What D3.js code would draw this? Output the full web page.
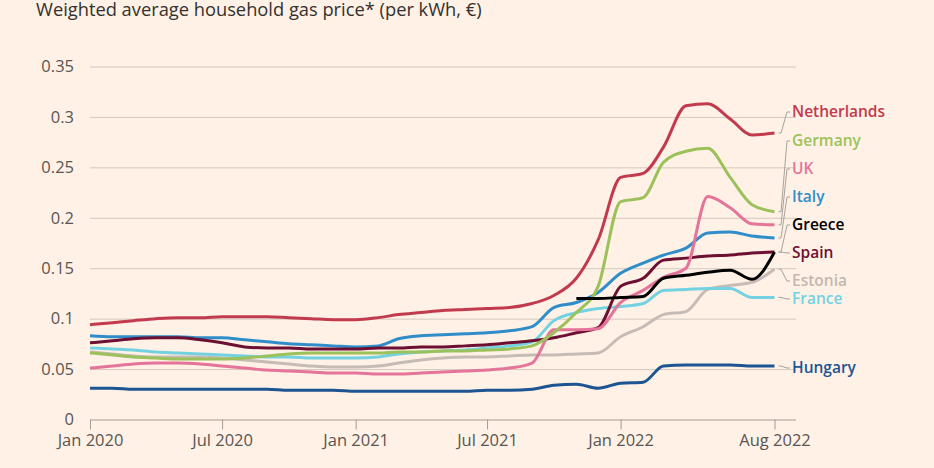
<!DOCTYPE html>
<html>
<head>
<meta charset="utf-8">
<script src="https://cdn.jsdelivr.net/npm/d3@7"></script>
<style>
  html, body { margin: 0; padding: 0; background: #fff1e5; }
  svg { display: block; }
</style>
</head>
<body>
<svg id="chart" width="934" height="468"></svg>
<script>
// ---------- DATA ----------
const months = ["2020-01","2020-02","2020-03","2020-04","2020-05","2020-06","2020-07","2020-08","2020-09","2020-10","2020-11","2020-12",
                "2021-01","2021-02","2021-03","2021-04","2021-05","2021-06","2021-07","2021-08","2021-09","2021-10","2021-11","2021-12",
                "2022-01","2022-02","2022-03","2022-04","2022-05","2022-06","2022-07","2022-08"];

const netherlands = [0.094,0.096,0.098,0.100,0.101,0.101,0.102,0.102,0.102,0.101,0.100,0.099,
                     0.099,0.101,0.104,0.106,0.108,0.109,0.110,0.111,0.115,0.123,0.140,0.178,
                     0.240,0.244,0.270,0.311,0.313,0.298,0.282,0.284];
const germany     = [0.066,0.064,0.062,0.061,0.060,0.060,0.060,0.061,0.063,0.065,0.066,0.066,
                     0.066,0.066,0.067,0.067,0.068,0.068,0.069,0.070,0.073,0.086,0.106,0.132,
                     0.216,0.220,0.255,0.266,0.269,0.240,0.213,0.206];
const uk          = [0.051,0.053,0.055,0.056,0.056,0.055,0.053,0.051,0.049,0.048,0.047,0.046,
                     0.046,0.045,0.045,0.046,0.047,0.048,0.049,0.051,0.056,0.089,0.089,0.090,
                     0.116,0.128,0.141,0.150,0.221,0.210,0.194,0.193];
const italy       = [0.083,0.082,0.082,0.082,0.082,0.081,0.081,0.079,0.077,0.075,0.074,0.073,
                     0.072,0.073,0.080,0.083,0.084,0.085,0.086,0.088,0.092,0.111,0.116,0.126,
                     0.145,0.155,0.163,0.170,0.185,0.186,0.182,0.180];
const greece      = [null,null,null,null,null,null,null,null,null,null,null,null,
                     null,null,null,null,null,null,null,null,null,null,0.120,0.120,
                     0.121,0.122,0.140,0.143,0.146,0.148,0.139,0.166];
const spain       = [0.076,0.078,0.080,0.081,0.081,0.079,0.076,0.072,0.071,0.071,0.070,0.070,
                     0.070,0.071,0.071,0.072,0.072,0.073,0.074,0.076,0.078,0.081,0.086,0.091,
                     0.132,0.140,0.158,0.160,0.162,0.163,0.165,0.166];
const estonia     = [0.067,0.065,0.063,0.062,0.062,0.062,0.061,0.059,0.057,0.055,0.053,0.052,
                     0.052,0.053,0.056,0.059,0.061,0.062,0.062,0.063,0.064,0.064,0.065,0.066,
                     0.082,0.092,0.104,0.107,0.129,0.133,0.136,0.149];
const france      = [0.071,0.070,0.069,0.067,0.066,0.065,0.064,0.063,0.062,0.062,0.061,0.061,
                     0.061,0.062,0.065,0.067,0.068,0.069,0.071,0.073,0.077,0.098,0.106,0.110,
                     0.112,0.115,0.128,0.129,0.130,0.130,0.121,0.121];
const hungary     = [0.031,0.031,0.030,0.030,0.030,0.030,0.030,0.030,0.030,0.029,0.029,0.029,
                     0.028,0.028,0.028,0.028,0.028,0.028,0.029,0.029,0.030,0.034,0.035,0.031,
                     0.036,0.037,0.053,0.054,0.054,0.054,0.053,0.053];

const seriesNames = ["Estonia","France","Hungary","Italy","Spain","UK","Germany","Netherlands","Greece"];
const seriesValues = {Netherlands: netherlands, Germany: germany, UK: uk, Italy: italy, Greece: greece,
                      Spain: spain, Estonia: estonia, France: france, Hungary: hungary};

const yTickValues = [0, 0.05, 0.1, 0.15, 0.2, 0.25, 0.3, 0.35];
const xTickDates  = ["2020-01","2020-07","2021-01","2021-07","2022-01","2022-08"];
const xTickLabels = ["Jan 2020","Jul 2020","Jan 2021","Jul 2021","Jan 2022","Aug 2022"];
const titleText = "Weighted average household gas price* (per kWh, \u20ac)";

// ---------- STYLE / LAYOUT ----------
const colors = {Netherlands:"#c23a4e", Germany:"#9cc15a", UK:"#e5749a", Italy:"#2f8dc9", Greece:"#000000",
                Spain:"#6d0f32", Estonia:"#c6bcb5", France:"#72d2e2", Hungary:"#1d5592"};
const labelColors = Object.assign({}, colors, {Estonia:"#c2b8b1"});
const labelY = {Netherlands:112, Germany:141, UK:169, Italy:197, Greece:225, Spain:253, Estonia:281, France:299, Hungary:368};

const W = 934, H = 468;
const parse = d3.timeParse("%Y-%m");

const x = d3.scaleTime().domain([parse("2020-01"), parse("2022-08")]).range([90, 774.5]);
const y = d3.scaleLinear().domain([0, 0.35]).range([419.5, 66.5]);

const svg = d3.select("#chart");
svg.append("rect").attr("width", W).attr("height", H).attr("fill", "#fff1e5");

// title
svg.append("text").attr("x", 36).attr("y", 16)
  .attr("font-family", "'Open Sans', sans-serif").attr("font-size", 18.3)
  .attr("fill", "#33302e").text(titleText);

// gridlines + y labels
const yAxis = d3.axisLeft(y).tickValues(yTickValues).tickSize(-(796 - 90)).tickFormat(d => d === 0 ? "0" : String(+d.toFixed(2)));
const gy = svg.append("g").attr("transform", "translate(90,0)").call(yAxis);
gy.select(".domain").remove();
gy.selectAll(".tick line").attr("stroke", "#d3c9bf").attr("stroke-width", 1)
  .filter(d => d === 0).attr("stroke", "#a39b94");
gy.selectAll(".tick text").attr("x", -16).attr("font-family", "'Open Sans', sans-serif")
  .attr("font-size", 16.5).attr("fill", "#5b5551");

// x axis
const xAxis = d3.axisBottom(x).tickValues(xTickDates.map(parse)).tickSize(10).tickSizeOuter(0)
  .tickFormat((d, i) => xTickLabels[i]);
const gx = svg.append("g").attr("transform", "translate(0,419.5)").call(xAxis);
gx.select(".domain").remove();
gx.selectAll(".tick line").attr("stroke", "#a39b94");
gx.selectAll(".tick text").attr("y", 15).attr("font-family", "'Open Sans', sans-serif")
  .attr("font-size", 16.5).attr("fill", "#5b5551");

// lines
const line = d3.line()
  .defined(d => d.v !== null)
  .x(d => x(d.date)).y(d => y(d.v))
  .curve(d3.curveMonotoneX);

seriesNames.forEach(name => {
  const pts = months.map((m, i) => ({date: parse(m), v: seriesValues[name][i]}));
  svg.append("path").datum(pts)
    .attr("fill", "none").attr("stroke", colors[name]).attr("stroke-width", 3)
    .attr("stroke-linejoin", "round").attr("stroke-linecap", "butt")
    .attr("d", line);
});

// leader lines + labels
const labelOrder = ["Netherlands","Germany","UK","Italy","Greece","Spain","Estonia","France","Hungary"];
labelOrder.forEach(name => {
  const vals = seriesValues[name];
  const endV = vals[vals.length - 1];
  const ye = y(endV), yl = labelY[name];
  svg.append("path")
    .attr("d", `M${x(parse("2022-08")) + 4},${ye} L${781},${ye} L${787},${yl} L${790},${yl}`)
    .attr("fill", "none").attr("stroke", "#a8a29c").attr("stroke-width", 1);
  svg.append("text").attr("x", 792).attr("y", yl).attr("dy", "0.35em")
    .attr("font-family", "'Open Sans', sans-serif").attr("font-weight", 600).attr("font-size", 15.5)
    .attr("fill", labelColors[name]).text(name);
});
</script>
</body>
</html>
